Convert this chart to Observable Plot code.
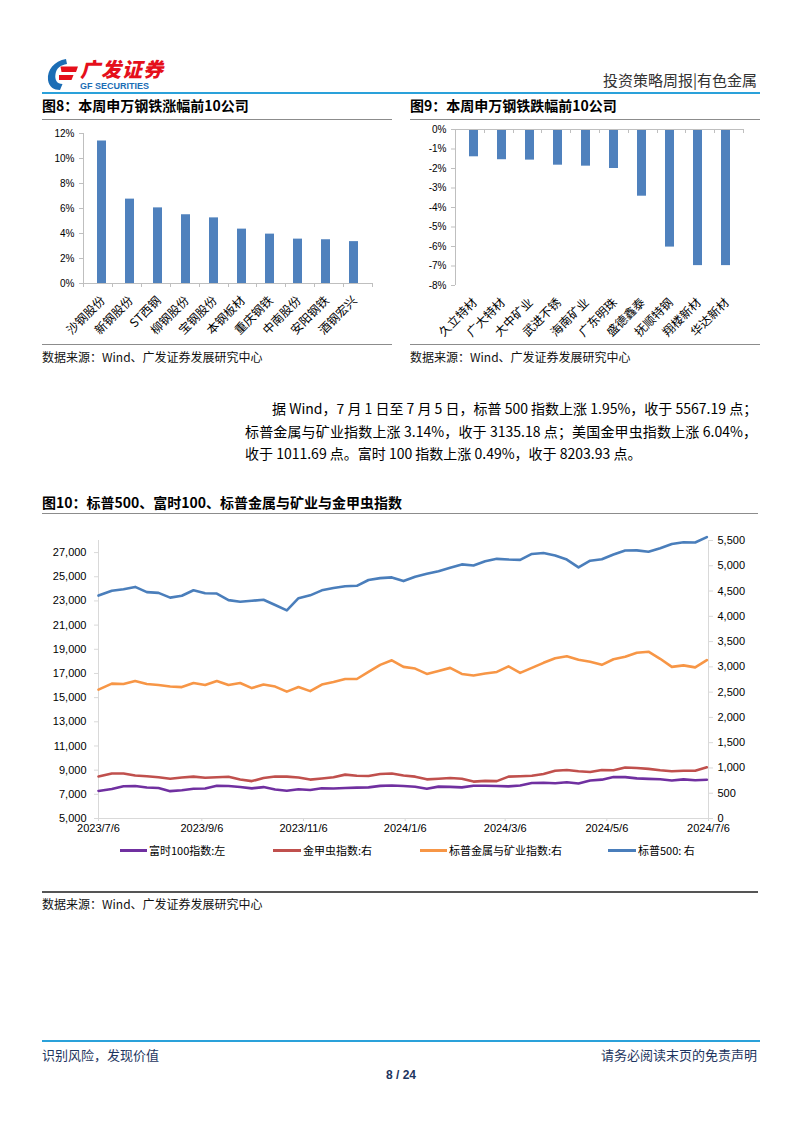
<!DOCTYPE html>
<html><head><meta charset="utf-8">
<script src="https://cdn.jsdelivr.net/npm/d3@7"></script>
<script src="https://cdn.jsdelivr.net/npm/@observablehq/plot@0.6"></script>
<style>
html,body{margin:0;padding:0;background:#fff}
body{width:802px;height:1133px;position:relative;overflow:hidden;font-family:"Noto Sans CJK SC","Liberation Sans",sans-serif;color:#000}
.a{position:absolute;white-space:nowrap}
.hl{position:absolute;height:0}
.title{font-size:14px;font-weight:bold;line-height:18px}
.cap{font-size:12px;line-height:16px;color:#111}
.para{font-size:14px;line-height:18px;text-align:justify;text-align-last:justify}
.leg{font-size:11px;line-height:14px}
.legline{position:absolute;height:3px}
</style></head><body>

<!-- header -->
<svg class="a" style="left:45px;top:57px" width="34" height="34" viewBox="0 0 34 34">
  <path d="M21 2 C9 4 2 13 3 23 C4 30 9 33 15 33 L17.5 27 C12 27 9.5 23 10.5 17 C11.5 11 15.5 8 22 7 Z" fill="#1b6db5"/>
  <path d="M15.5 9.5 L33 9.5 L31 15 L16.5 15 Z" fill="#e50f1b"/>
  <path d="M14 18 L28.5 18 L26.5 23 L14 23 Z" fill="#e50f1b"/>
</svg>
<div class="a" style="left:80px;top:59px;font-size:20px;font-weight:900;color:#e50f1b;line-height:20px;font-style:italic;letter-spacing:1px">广发证券</div>
<div class="a" style="left:80px;top:81px;font-size:9px;font-weight:bold;color:#1b6db5;line-height:10px;font-family:'Liberation Sans',sans-serif">GF SECURITIES</div>
<div class="a" style="right:45px;top:70px;font-size:15px;line-height:20px;color:#333">投资策略周报|有色金属</div>
<div class="hl" style="left:42px;width:718px;top:92px;border-top:2px solid #2aa1da"></div>

<!-- fig 8 / fig 9 titles -->
<div class="a title" style="left:42px;top:96px">图8：本周申万钢铁涨幅前10公司</div>
<div class="hl" style="left:42px;width:350px;top:119px;border-top:1px solid #8c8c8c"></div>
<div class="a title" style="left:410px;top:96px">图9：本周申万钢铁跌幅前10公司</div>
<div class="hl" style="left:410px;width:350px;top:119px;border-top:1px solid #8c8c8c"></div>

<div id="fig8" class="a" style="left:0px;top:125px"></div>
<div id="fig9" class="a" style="left:400px;top:120px"></div>

<div class="hl" style="left:42px;width:350px;top:344px;border-top:1px solid #8c8c8c"></div>
<div class="a cap" style="left:42px;top:349px">数据来源：Wind、广发证券发展研究中心</div>
<div class="hl" style="left:410px;width:350px;top:344px;border-top:1px solid #8c8c8c"></div>
<div class="a cap" style="left:410px;top:349px">数据来源：Wind、广发证券发展研究中心</div>

<!-- paragraph -->
<div class="a para" style="left:272px;width:485px;top:399px">据 Wind，7 月 1 日至 7 月 5 日，标普 500 指数上涨 1.95%，收于 5567.19 点；</div>
<div class="a para" style="left:245px;width:512px;top:422px">标普金属与矿业指数上涨 3.14%，收于 3135.18 点；美国金甲虫指数上涨 6.04%，</div>
<div class="a" style="left:245px;top:444px;font-size:14px;line-height:18px">收于 1011.69 点。富时 100 指数上涨 0.49%，收于 8203.93 点。</div>

<!-- fig 10 -->
<div class="a title" style="left:42px;top:493px">图10：标普500、富时100、标普金属与矿业与金甲虫指数</div>
<div class="hl" style="left:42px;width:716px;top:513px;border-top:1px solid #8c8c8c"></div>
<div id="fig10" class="a" style="left:0px;top:530px"></div>
<div id="legend10"></div>
<div class="hl" style="left:42px;width:716px;top:891px;border-top:2px solid #555"></div>
<div class="a cap" style="left:42px;top:896px">数据来源：Wind、广发证券发展研究中心</div>

<!-- footer -->
<div class="hl" style="left:42px;width:718px;top:1040px;border-top:2px solid #2aa1da"></div>
<div class="a" style="left:42px;top:1046px;font-size:13px;line-height:18px;color:#1d3560">识别风险，发现价值</div>
<div class="a" style="right:45px;top:1046px;font-size:13px;line-height:18px;color:#1d3560">请务必阅读末页的免责声明</div>
<div class="a" style="left:0;width:802px;text-align:center;top:1067px;font-size:12px;font-weight:bold;line-height:16px;color:#1d3560;font-family:'Liberation Sans',sans-serif">8 / 24</div>

<script>
// ---------- data ----------
const gainNames = ["沙钢股份","新钢股份","ST西钢","柳钢股份","宝钢股份","本钢板材","重庆钢铁","中南股份","安阳钢铁","酒钢宏兴"];
const gainValues = [11.4, 6.75, 6.05, 5.5, 5.25, 4.35, 3.95, 3.55, 3.5, 3.35];
const gainTicks = [0, 2, 4, 6, 8, 10, 12];

const lossNames = ["久立特材","广大特材","大中矿业","武进不锈","海南矿业","广东明珠","盛德鑫泰","抚顺特钢","翔楼新材","华达新材"];
const lossValues = [-1.4, -1.55, -1.57, -1.83, -1.88, -2.0, -3.42, -6.03, -6.98, -6.98];
const lossTicks = [-8, -7, -6, -5, -4, -3, -2, -1, 0];

const weekDates = ["2023-07-06","2023-07-14","2023-07-21","2023-07-28","2023-08-04","2023-08-11","2023-08-18","2023-08-25",
  "2023-09-01","2023-09-08","2023-09-15","2023-09-22","2023-09-29","2023-10-06","2023-10-13","2023-10-20","2023-10-27",
  "2023-11-03","2023-11-10","2023-11-17","2023-11-24","2023-12-01","2023-12-08","2023-12-15","2023-12-22","2023-12-29",
  "2024-01-05","2024-01-12","2024-01-19","2024-01-26","2024-02-02","2024-02-09","2024-02-16","2024-02-23",
  "2024-03-01","2024-03-08","2024-03-15","2024-03-22","2024-03-29","2024-04-05","2024-04-12","2024-04-19","2024-04-26",
  "2024-05-03","2024-05-10","2024-05-17","2024-05-24","2024-05-31","2024-06-07","2024-06-14","2024-06-21","2024-06-28","2024-07-05"];
// 富时100指数 (left axis)
const ftse100 = [7280,7434,7664,7694,7564,7524,7262,7338,7464,7478,7711,7684,7608,7495,7599,7402,7291,
  7418,7360,7504,7488,7529,7554,7576,7698,7733,7690,7625,7462,7635,7616,7573,7712,7707,
  7683,7660,7727,7931,7953,7911,7996,7896,8140,8213,8434,8420,8318,8275,8245,8147,8238,8164,8204];
// 金甲虫指数 (right axis)
const goldBugs = [830,890,890,850,835,815,785,810,828,805,815,825,770,740,800,830,828,
  810,770,790,815,868,845,840,880,890,850,828,775,785,800,785,730,745,
  740,828,835,845,880,945,960,935,920,960,955,1010,1000,981,955,935,945,945,1012];
// 标普金属与矿业指数 (right axis)
const spMetals = [2550,2669,2660,2720,2660,2640,2610,2600,2680,2640,2720,2640,2680,2580,2650,2610,2510,
  2600,2520,2650,2700,2760,2760,2900,3040,3130,3000,2966,2860,2920,2980,2860,2830,2870,
  2900,3010,2880,2980,3080,3170,3210,3140,3100,3040,3150,3200,3280,3300,3160,3000,3030,2990,3135];
// 标普500 (right axis)
const sp500 = [4411,4505,4536,4582,4478,4464,4370,4406,4516,4457,4450,4320,4288,4308,4327,4224,4117,
  4358,4415,4514,4559,4595,4604,4719,4755,4770,4697,4784,4840,4891,4959,5027,5006,5089,
  5137,5124,5117,5234,5254,5204,5123,4967,5100,5128,5223,5303,5305,5278,5347,5431,5465,5460,5567];

const xTickDates = ["2023-07-06","2023-09-06","2023-11-06","2024-01-06","2024-03-06","2024-05-06","2024-07-06"];
const leftTicks = [5000,7000,9000,11000,13000,15000,17000,19000,21000,23000,25000,27000];
const rightTicks = [0,500,1000,1500,2000,2500,3000,3500,4000,4500,5000,5500];
const leftDomain = [5000, 28000];
const rightDomain = [0, 5500];

const seriesNames = ["富时100指数:左","金甲虫指数:右","标普金属与矿业指数:右","标普500: 右"];
const seriesColors = ["#7030a0","#c0504d","#f79646","#4a7ebb"];

// ---------- helpers ----------
const NUM = "'Liberation Sans', Arial, sans-serif";
const CJK = "'Noto Sans CJK SC', sans-serif";
const BAR = "#4f81bd";
const AXIS = "#bfbfbf";

function addCategoryAxis(svg, chart, yVal, n, down) {
  const xs = chart.scale("x"), ys = chart.scale("y");
  const [r0, r1] = xs.range;
  const y0 = ys.apply(yVal);
  const yTop = ys.apply(ys.domain[1]), yBot = ys.apply(ys.domain[0]);
  const g = d3.select(svg).append("g").attr("stroke", AXIS).attr("stroke-width", 1);
  g.append("line").attr("x1", r0 + 0.5).attr("x2", r0 + 0.5).attr("y1", yTop).attr("y2", yBot);
  const step = (r1 - r0) / n;
  for (let i = 0; i <= n; i++) {
    const x = Math.round(r0 + i * step) + 0.5;
    g.append("line").attr("x1", x).attr("x2", x).attr("y1", y0).attr("y2", y0 + down);
  }
}

// ---------- fig 8 ----------
{
  const data = gainNames.map((name, i) => ({name, value: gainValues[i]}));
  const chart = Plot.plot({
    width: 400, height: 215,
    marginLeft: 83, marginRight: 28, marginTop: 8, marginBottom: 57,
    style: {background: "transparent", color: "#000", fontFamily: NUM},
    x: {domain: gainNames, paddingInner: 0.68, paddingOuter: 0.34, label: null, axis: null},
    y: {domain: [0, 12], label: null, axis: null},
    marks: [
      Plot.barY(data, {x: "name", y: "value", fill: BAR}),
      Plot.ruleY([0], {stroke: AXIS}),
      Plot.axisY({ticks: gainTicks, tickFormat: d => d + "%", tickSize: 4, tickPadding: 5, stroke: AXIS, fontSize: 10, fontFamily: NUM}),
      Plot.axisX({tickRotate: -45, tickSize: 0, tickPadding: 15, dx: 1, fontSize: 12, fontFamily: CJK})
    ]
  });
  addCategoryAxis(chart, chart, 0, gainNames.length, 4);
  document.getElementById("fig8").appendChild(chart);
}

// ---------- fig 9 ----------
{
  const data = lossNames.map((name, i) => ({name, value: lossValues[i]}));
  const chart = Plot.plot({
    width: 370, height: 222,
    marginLeft: 55, marginRight: 27, marginTop: 9, marginBottom: 57,
    style: {background: "transparent", color: "#000", fontFamily: NUM},
    x: {domain: lossNames, paddingInner: 0.68, paddingOuter: 0.34, label: null, axis: null},
    y: {domain: [-8, 0], label: null, axis: null},
    marks: [
      Plot.barY(data, {x: "name", y: "value", fill: BAR}),
      Plot.ruleY([0], {stroke: AXIS}),
      Plot.axisY({ticks: lossTicks, tickFormat: d => (d === 0 ? "0" : String(d)) + "%", tickSize: 4, tickPadding: 5, stroke: AXIS, fontSize: 10, fontFamily: NUM}),
      Plot.axisX({tickRotate: -45, tickSize: 0, tickPadding: 15, dx: 1, fontSize: 12, fontFamily: CJK})
    ]
  });
  addCategoryAxis(chart, chart, 0, lossNames.length, 4);
  document.getElementById("fig9").appendChild(chart);
}

// ---------- fig 10 ----------
{
  const parse = d3.utcParse("%Y-%m-%d");
  const k = (leftDomain[1] - leftDomain[0]) / (rightDomain[1] - rightDomain[0]);
  const toLeft = v => leftDomain[0] + (v - rightDomain[0]) * k;
  const fromLeft = v => rightDomain[0] + (v - leftDomain[0]) / k;
  const raw = [ftse100, goldBugs, spMetals, sp500];
  const onRight = [false, true, true, true];
  const rows = [];
  raw.forEach((arr, s) => arr.forEach((v, i) => rows.push({
    series: seriesNames[s], date: parse(weekDates[i]), y: onRight[s] ? toLeft(v) : v
  })));
  const fmt = d3.format(",");
  const xDomain = [parse(xTickDates[0]), parse(xTickDates[xTickDates.length - 1])];
  const chart = Plot.plot({
    width: 802, height: 310,
    marginLeft: 98, marginRight: 94, marginTop: 10, marginBottom: 22,
    style: {background: "transparent", color: "#000", fontFamily: NUM},
    x: {type: "utc", domain: xDomain, label: null, axis: null},
    y: {domain: leftDomain, label: null, axis: null},
    color: {domain: seriesNames, range: seriesColors},
    marks: [
      Plot.ruleX([xDomain[0]], {stroke: "#d9d9d9"}),
      Plot.ruleX([xDomain[1]], {stroke: "#d9d9d9"}),
      Plot.ruleY([leftDomain[0]], {stroke: "#d9d9d9"}),
      Plot.axisY({ticks: leftTicks, tickFormat: fmt, tickSize: 4, tickPadding: 8, stroke: "#d9d9d9", fontSize: 11, fontFamily: NUM}),
      Plot.axisY({anchor: "right", ticks: rightTicks.map(toLeft), tickFormat: d => fmt(Math.round(fromLeft(d))), tickSize: 4, tickPadding: 5, stroke: "#d9d9d9", fontSize: 11, fontFamily: NUM}),
      Plot.axisX({ticks: xTickDates.map(parse), tickFormat: d => `${d.getUTCFullYear()}/${d.getUTCMonth() + 1}/${d.getUTCDate()}`, tickSize: 3, tickPadding: 3, stroke: "#d9d9d9", fontSize: 11, fontFamily: NUM}),
      Plot.line(rows, {x: "date", y: "y", z: "series", stroke: "series", strokeWidth: 2.6, curve: "linear"})
    ]
  });
  document.getElementById("fig10").appendChild(chart);

  // legend
  const legPos = [[120, 149], [273, 303], [420, 449], [608, 638]];
  const leg = document.getElementById("legend10");
  seriesNames.forEach((name, i) => {
    const line = document.createElement("div");
    line.className = "legline";
    line.style.cssText = `left:${legPos[i][0]}px;width:${legPos[i][1] - legPos[i][0] - 2}px;top:849px;background:${seriesColors[i]}`;
    leg.appendChild(line);
    const t = document.createElement("div");
    t.className = "a leg";
    t.style.cssText = `left:${legPos[i][1]}px;top:843px`;
    t.textContent = name;
    leg.appendChild(t);
  });
}
</script>
</body></html>
